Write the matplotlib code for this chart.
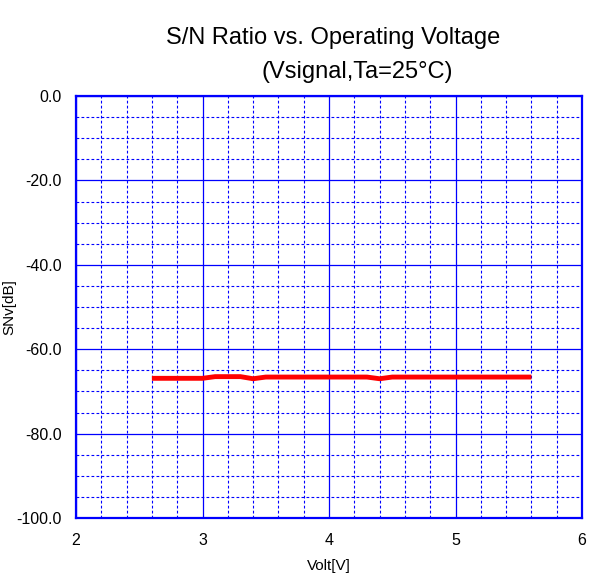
import numpy as np
from matplotlib import pyplot as plt
from matplotlib.ticker import MultipleLocator, FormatStrFormatter

plt.rcParams['font.family'] = ['Liberation Sans', 'DejaVu Sans']

volt = [2.6, 2.7, 2.8, 2.9, 3.0, 3.1, 3.2, 3.3, 3.4, 3.5,
        3.6, 3.7, 3.8, 3.9, 4.0, 4.1, 4.2, 4.3, 4.4, 4.5,
        4.6, 4.7, 4.8, 4.9, 5.0, 5.1, 5.2, 5.3, 5.4, 5.5, 5.6]
snv = [-66.9, -66.9, -66.9, -66.9, -66.9, -66.5, -66.5, -66.5, -67.0, -66.6,
       -66.6, -66.6, -66.6, -66.6, -66.6, -66.6, -66.6, -66.6, -67.0, -66.6,
       -66.6, -66.6, -66.6, -66.6, -66.6, -66.6, -66.6, -66.6, -66.6, -66.6, -66.6]

blue = '#0000ff'

fig = plt.figure(figsize=(5.89, 5.76), dpi=100)
ax = fig.add_axes([76 / 589, 1 - 518 / 576, 506 / 589, 422 / 576])

ax.set_xlim(2, 6)
ax.set_ylim(-100, 0)
ax.xaxis.set_major_locator(MultipleLocator(1))
ax.xaxis.set_minor_locator(MultipleLocator(0.2))
ax.yaxis.set_major_locator(MultipleLocator(20))
ax.yaxis.set_minor_locator(MultipleLocator(5))
ax.yaxis.set_major_formatter(FormatStrFormatter('%.1f'))

ax.grid(which='major', color=blue, linewidth=0.9, linestyle='-', zorder=0)
ax.grid(which='minor', color=blue, linewidth=0.8, linestyle=(0, (2.5, 2)), zorder=0)
for s in ax.spines.values():
    s.set_color(blue)
    s.set_linewidth(1.6)
ax.tick_params(which='major', direction='in', length=0, labelsize=11.5)
ax.tick_params(which='minor', length=0)
ax.tick_params(axis='x', pad=11)
ax.tick_params(axis='y', pad=10)

ax.plot(volt, snv, color='#ff0000', linewidth=3.5, solid_capstyle='butt', zorder=3)

ax.set_xlabel('Volt[V]', fontsize=11, labelpad=8)
ax.set_ylabel('SNv[dB]', fontsize=11, labelpad=0)

fig.text(333 / 589, 1 - 38 / 576, 'S/N Ratio vs. Operating Voltage',
         fontsize=17, ha='center', va='center')
fig.text(357 / 589, 1 - 72 / 576, '(Vsignal,Ta=25\u00b0C)',
         fontsize=17, ha='center', va='center')

fig.savefig('out.png', dpi=100)
